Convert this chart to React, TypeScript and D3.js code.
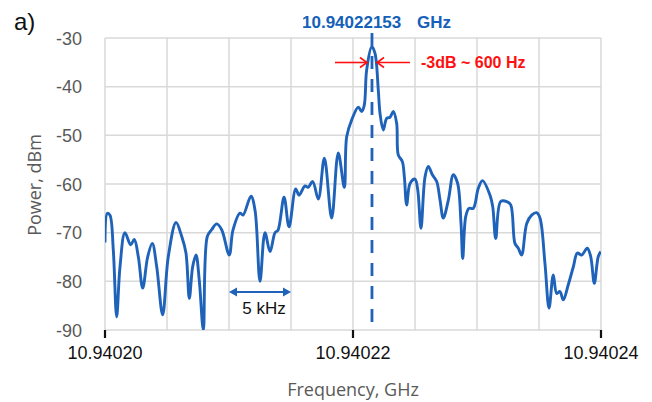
import React from 'react';
import * as d3 from 'd3';

// offset from 10.94020 GHz in kHz, power in dBm
const offsetKHz = [
  0, 0.19, 0.4, 0.67, 0.94, 1.21, 1.61, 2.07, 2.36, 2.69, 3.04, 3.44, 3.81, 4.17, 4.65, 5.1,
  5.73, 6.19, 6.53, 6.8, 7.07, 7.34, 7.6, 7.93, 8.25, 8.6, 9.01, 9.41, 10.02, 10.32, 10.89, 11.13,
  11.77, 12.1, 12.5, 12.9, 13.31, 13.71, 13.95, 14.44, 14.84, 15.38, 15.65, 16.13, 16.37, 16.75, 17.2, 17.69,
  18.28, 18.81, 19.3, 19.49, 19.9, 20.43, 20.7, 20.91, 21.1, 21.51, 21.77, 22.04, 22.18, 22.44, 22.72, 22.98,
  23.25, 23.52, 23.65, 23.98, 24.14, 24.33, 24.6, 25.0, 25.22, 25.48, 25.81, 26.07, 26.4, 26.75, 27.02, 27.28,
  27.69, 28.09, 28.44, 28.71, 28.85, 29.09, 29.35, 29.7, 30.1, 30.44, 31.05, 31.27, 31.51, 31.91, 32.4, 32.72,
  33.06, 33.33, 33.6, 34.01, 34.41, 34.81, 35.08, 35.48, 35.81, 36.15, 36.43, 36.69, 36.96, 37.36, 37.77, 38.09,
  38.44, 38.89, 39.17, 39.46, 39.78, 39.98,
];
const powerDBm = [
  -72, -66, -66.4, -73.6, -87.3, -77, -70, -72.5, -71.4, -75, -81.4, -75, -72.2, -77, -86.9, -75,
  -67.9, -70.8, -74.2, -83.5, -77, -74.6, -79.7, -90, -70.8, -69.4, -68.2, -69.4, -74.6, -69.5, -66, -66.4,
  -62.5, -65.4, -80, -70, -73.9, -70, -69.5, -62.7, -68.8, -61, -62.3, -60.4, -60.7, -59.5, -63.1, -54.7,
  -67, -53.6, -60.7, -50.3, -46.8, -44.2, -45.1, -43.8, -36.6, -31.8, -33.1, -40.7, -45.5, -48.9, -46.5, -46.3,
  -45.1, -47.5, -54, -55.4, -58.5, -64.3, -59.9, -59, -61.2, -69.1, -58.5, -56.4, -58.1, -59.5, -63.3, -67,
  -63.3, -58.1, -59.9, -68.1, -75.3, -66.7, -65, -65, -60.9, -59.3, -62.3, -64.7, -71.2, -63.6, -63.6, -64.3,
  -72.2, -73.2, -74.6, -68.1, -66.4, -65.9, -67, -76.3, -85.5, -78.7, -82.5, -82.1, -83.8, -80.7, -77, -74.2,
  -74.6, -73.2, -74.9, -80.4, -74.9, -73.9,
];

const yTicks = [-30, -40, -50, -60, -70, -80, -90];
const xGrid = [0, 5, 10, 15, 20, 25, 30, 35, 40];
const xTickKHz = [0, 20, 40];
const xTickLabels = ['10.94020', '10.94022', '10.94024'];

const peakKHz = 21.53;
const peakLabel = '10.94022153';
const widthLabel = '-3dB ~ 600 Hz';
const spanKHz = [10, 15];
const spanLabel = '5 kHz';

const W = 652;
const H = 402;
const m = { left: 105, right: 51, top: 38, bottom: 72 };

const BLUE = '#1E62BA';

export default function App() {
  const x = d3.scaleLinear().domain([0, 40]).range([m.left, W - m.right]);
  const y = d3.scaleLinear().domain([-90, -30]).range([H - m.bottom, m.top]);

  const data = offsetKHz.map((k, i) => ({ k, p: powerDBm[i] }));
  const line = d3
    .line<{ k: number; p: number }>()
    .x(d => x(d.k))
    .y(d => y(d.p))
    .curve(d3.curveCatmullRom.alpha(0.5));

  const x0 = x(0), x1 = x(40), yTop = y(-30), yBot = y(-90);
  const px = x(peakKHz);
  const ay = 62.5;
  const sy = 292;

  return (
    <svg width={W} height={H} style={{ position: 'absolute', left: 0, top: 0 }}>
      <defs>
        <clipPath id="plot">
          <rect x={x0} y={yTop - 10} width={x1 - x0} height={yBot - yTop + 10} />
        </clipPath>
      </defs>
      <rect width={W} height={H} fill="#fff" />

      {/* grid */}
      {yTicks.map(t => (
        <line key={'h' + t} x1={x0} x2={x1} y1={y(t)} y2={y(t)} stroke="#D9D9D9" strokeWidth={1.5} />
      ))}
      {xGrid.map(t => (
        <line key={'v' + t} x1={x(t)} x2={x(t)} y1={yTop} y2={yBot} stroke="#D9D9D9" strokeWidth={1.5} />
      ))}
      {xTickKHz.map(t => (
        <line key={'t' + t} x1={x(t)} x2={x(t)} y1={yBot} y2={yBot + 8} stroke="#111" strokeWidth={2.2} />
      ))}

      {/* y tick labels */}
      {yTicks.map(t => (
        <text key={'yl' + t} x={82} y={y(t) + 6.5} textAnchor="end" fontFamily="Liberation Sans, Arial"
          fontSize={18} fill="#595959">{t}</text>
      ))}
      {/* x tick labels */}
      {xTickKHz.map((t, i) => (
        <text key={'xl' + t} x={x(t)} y={359} textAnchor="middle" fontFamily="Liberation Sans, Arial"
          fontSize={18} fill="#111">{xTickLabels[i]}</text>
      ))}

      <text x={353} y={396} textAnchor="middle" fontFamily="Open Sans" fontSize={18} fill="#595959">
        Frequency, GHz
      </text>
      <text transform={`translate(41,185) rotate(-90)`} textAnchor="middle" fontFamily="Open Sans"
        fontSize={18} fill="#595959">Power, dBm</text>
      <text x={14} y={30} fontFamily="Liberation Sans, Arial" fontSize={24} fill="#111">a)</text>

      {/* spectrum */}
      <path d={line(data) || ''} fill="none" stroke={BLUE} strokeWidth={2.9} strokeLinejoin="round"
        clipPath="url(#plot)" />

      {/* peak marker */}
      <line x1={px} x2={px} y1={33} y2={yBot} stroke={BLUE} strokeWidth={2.8} strokeDasharray="13,10" />
      <text x={302} y={28} fontFamily="Liberation Sans, Arial" fontWeight="bold" fontSize={17} fill="#1560B8">
        {peakLabel}
      </text>
      <text x={417} y={28} fontFamily="Liberation Sans, Arial" fontWeight="bold" fontSize={17} fill="#1560B8">
        GHz
      </text>

      {/* -3 dB width arrows */}
      <g stroke="#FF1010" strokeWidth={1.6} fill="none">
        <line x1={335} x2={367} y1={ay} y2={ay} />
        <path d={`M${360},${ay - 5} L${367},${ay} L${360},${ay + 5}`} />
        <line x1={410} x2={377} y1={ay} y2={ay} />
        <path d={`M${384},${ay - 5} L${377},${ay} L${384},${ay + 5}`} />
      </g>
      <text x={421} y={68} fontFamily="Liberation Sans, Arial" fontWeight="bold" fontSize={16} fill="#FF1010">
        {widthLabel}
      </text>

      {/* 5 kHz span */}
      <line x1={x(spanKHz[0]) + 6} x2={x(spanKHz[1]) - 6} y1={sy} y2={sy} stroke={BLUE} strokeWidth={2} />
      <path d={`M${x(spanKHz[0])},${sy} l8,-4.5 l0,9 Z`} fill={BLUE} />
      <path d={`M${x(spanKHz[1])},${sy} l-8,-4.5 l0,9 Z`} fill={BLUE} />
      <text x={(x(spanKHz[0]) + x(spanKHz[1])) / 2 + 4} y={314} textAnchor="middle"
        fontFamily="Liberation Sans, Arial" fontSize={17} fill="#111">{spanLabel}</text>
    </svg>
  );
}
